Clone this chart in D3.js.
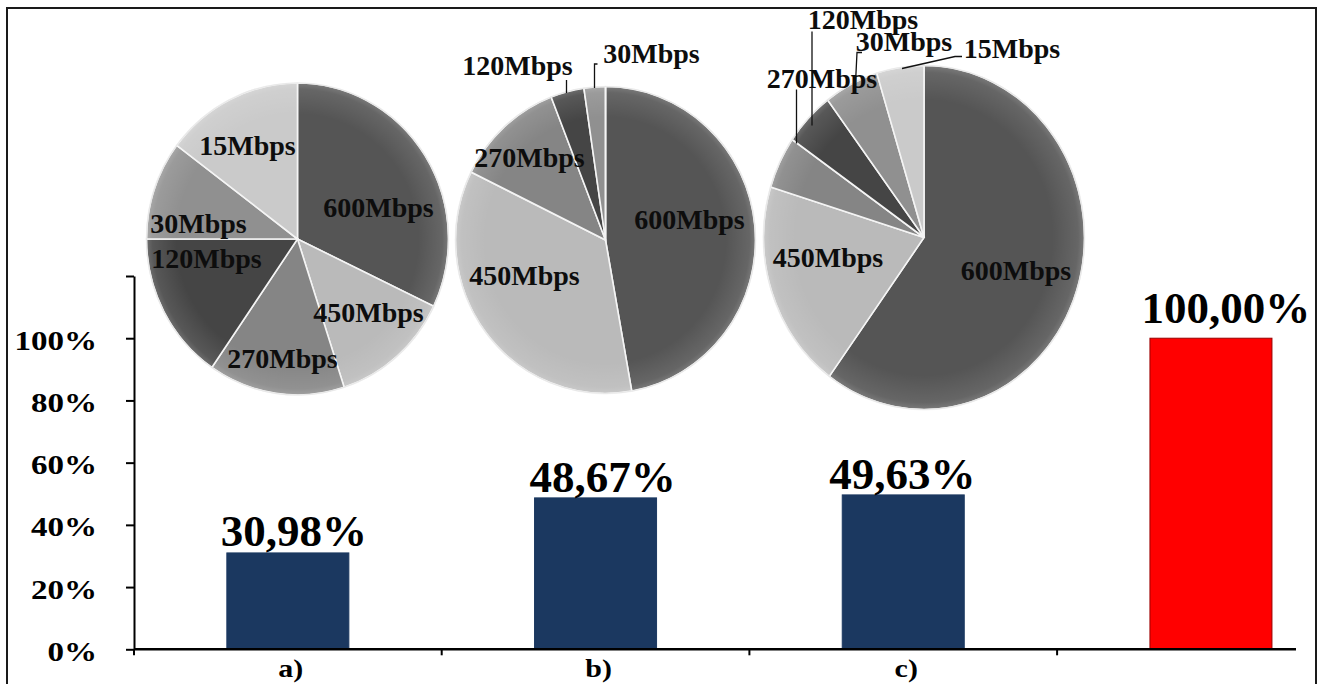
<!DOCTYPE html>
<html>
<head>
<meta charset="utf-8">
<script src="https://cdn.jsdelivr.net/npm/d3@7"></script>
<style>
  html, body { margin: 0; padding: 0; background: #ffffff; }
  svg { display: block; font-family: "Liberation Serif", "Times New Roman", serif; font-weight: bold; }
</style>
</head>
<body>
<svg id="chart" width="1320" height="684"></svg>
<script>
// ---- Bar data: relative throughput per scenario ----
const categories = ["a)", "b)", "c)", ""];
const shares = [0.3098, 0.4867, 0.4963, 1.0];
const shareLabels = ["30,98%", "48,67%", "49,63%", "100,00%"];
const yTicks = [0, 0.2, 0.4, 0.6, 0.8, 1.0, 1.2];
const yTickLabels = ["0%", "20%", "40%", "60%", "80%", "100%", ""];

// ---- Pie data: share (%) of each link rate in scenarios a), b), c) ----
const rates = ["600Mbps", "450Mbps", "270Mbps", "120Mbps", "30Mbps", "15Mbps"];
const pieA = [32.1, 12.9, 14.6, 15.4, 10.25, 14.75];
const pieB = [47.2, 35.1, 11.8, 3.6, 2.3, 0];
const pieC = [60.05, 19.7, 4.9, 5.1, 5.5, 4.75];

// ---- Styling ----
const barColors = ["#1b3860", "#1b3860", "#1b3860", "#ff0000"];
const barStrokes = ["#1b3860", "#1b3860", "#1b3860", "#9a0000"];
const rateColors = ["#555555", "#bababa", "#858585", "#454545", "#909090", "#cacaca"];

const svg = d3.select("#chart");

// outer frame
svg.append("rect")
  .attr("x", 7).attr("y", 8).attr("width", 1309).attr("height", 700)
  .attr("fill", "none").attr("stroke", "#1a1a1a").attr("stroke-width", 2);

// ---- Scales ----
const plotLeft = 134, plotBottom = 649.3, plotTop = 276, step = 307.7, axisEnd = 1296;
const x = d3.scaleBand()
  .domain(categories)
  .range([plotLeft, plotLeft + step * categories.length])
  .paddingInner(0.6035)
  .paddingOuter(0.30175);
const y = d3.scaleLinear().domain([0, 1.2]).range([plotBottom, plotTop]);

// ---- Bars ----
svg.append("g").selectAll("rect")
  .data(categories)
  .join("rect")
  .attr("x", d => x(d))
  .attr("y", (d, i) => y(shares[i]))
  .attr("width", x.bandwidth())
  .attr("height", (d, i) => y(0) - y(shares[i]))
  .attr("fill", (d, i) => barColors[i])
  .attr("stroke", (d, i) => barStrokes[i])
  .attr("stroke-width", 1);

// value labels above the bars
const valueShift = [[6, -7], [7, -6], [-1, -6], [15, -15]];
svg.append("g").selectAll("text")
  .data(categories)
  .join("text")
  .attr("x", (d, i) => x(d) + x.bandwidth() / 2 + valueShift[i][0])
  .attr("y", (d, i) => y(shares[i]) + valueShift[i][1])
  .attr("text-anchor", "middle")
  .attr("font-size", 45)
  .attr("fill", "#000")
  .text((d, i) => shareLabels[i]);

// ---- Y axis ----
const yAxis = svg.append("g")
  .attr("transform", `translate(${plotLeft},0)`)
  .call(d3.axisLeft(y).tickValues(yTicks).tickSize(8).tickSizeOuter(0).tickFormat(""));
yAxis.select(".domain").attr("stroke", "#000").attr("stroke-width", 2);
yAxis.selectAll(".tick line").attr("stroke", "#000").attr("stroke-width", 2);

svg.append("g").selectAll("text")
  .data(yTicks)
  .join("text")
  .attr("transform", d => `translate(97,${y(d) + 11.5}) scale(1.18,1)`)
  .attr("text-anchor", "end")
  .attr("font-size", 28)
  .attr("fill", "#000")
  .text((d, i) => yTickLabels[i]);

// ---- X axis ----
const xAxis = svg.append("g");
xAxis.append("line")
  .attr("x1", plotLeft).attr("x2", axisEnd)
  .attr("y1", y(0)).attr("y2", y(0))
  .attr("stroke", "#000").attr("stroke-width", 2.5);
// tick marks on the category boundaries
xAxis.selectAll("line.tick")
  .data(categories.filter(c => x(c) + x.bandwidth() / 2 - x.step() / 2 < axisEnd))
  .join("line")
  .attr("class", "tick")
  .attr("x1", d => x(d) + x.bandwidth() / 2 - x.step() / 2)
  .attr("x2", d => x(d) + x.bandwidth() / 2 - x.step() / 2)
  .attr("y1", y(0)).attr("y2", y(0) + 6)
  .attr("stroke", "#000").attr("stroke-width", 2);
xAxis.selectAll("text")
  .data(categories)
  .join("text")
  .attr("transform", d => `translate(${x(d) + x.bandwidth() / 2 + 3},677) scale(1.2,1)`)
  .attr("text-anchor", "middle")
  .attr("font-size", 25)
  .attr("fill", "#000")
  .text(d => d);

// ---- Pies ----
const defs = svg.append("defs");
const sheen = defs.append("radialGradient").attr("id", "pieSheen");
sheen.append("stop").attr("offset", "0%").attr("stop-color", "#fff").attr("stop-opacity", 0);
sheen.append("stop").attr("offset", "80%").attr("stop-color", "#fff").attr("stop-opacity", 0);
sheen.append("stop").attr("offset", "96%").attr("stop-color", "#fff").attr("stop-opacity", 0.10);
sheen.append("stop").attr("offset", "100%").attr("stop-color", "#fff").attr("stop-opacity", 0.22);

const pies = [
  {
    values: pieA, cx: 297.5, cy: 239, rx: 151, ry: 156,
    labels: { "600Mbps": [81, -22], "450Mbps": [71, 83], "270Mbps": [-15, 129],
              "120Mbps": [-91, 29], "30Mbps": [-99, -6], "15Mbps": [-50, -84] },
    leaders: {}
  },
  {
    values: pieB, cx: 605.5, cy: 240, rx: 150, ry: 153.5,
    labels: { "600Mbps": [84, -11], "450Mbps": [-81, 45], "270Mbps": [-76, -73],
              "120Mbps": [-88, -165], "30Mbps": [46, -177] },
    leaders: { "120Mbps": [[-39, -160], [-39, -147]],
               "30Mbps": [[-8, -176], [-11, -176], [-11, -152]] }
  },
  {
    values: pieC, cx: 924, cy: 237.5, rx: 160.5, ry: 172,
    labels: { "600Mbps": [92, 42], "450Mbps": [-96, 29], "270Mbps": [-102, -150],
              "120Mbps": [-61, -208.5], "30Mbps": [-20, -187], "15Mbps": [88, -180] },
    leaders: { "270Mbps": [[-127.5, -148], [-127.5, -94]],
               "120Mbps": [[-112, -206], [-112, -112]],
               "30Mbps": [[-62, -185], [-67, -185], [-69, -144]],
               "15Mbps": [[38, -181], [31, -181], [-22, -169]] }
  }
];

const pieGen = d3.pie().sort(null).value(d => d);

pies.forEach(p => {
  const g = svg.append("g").attr("transform", `translate(${p.cx},${p.cy})`);
  const shape = g.append("g").attr("transform", `scale(1,${p.ry / p.rx})`);
  const arc = d3.arc().innerRadius(0).outerRadius(p.rx);

  shape.selectAll("path")
    .data(pieGen(p.values))
    .join("path")
    .attr("d", arc)
    .attr("fill", (d, i) => rateColors[i])
    .attr("stroke", "#f4f4f4")
    .attr("stroke-width", 1.6)
    .attr("vector-effect", "non-scaling-stroke");

  shape.append("circle")
    .attr("r", p.rx)
    .attr("fill", "url(#pieSheen)")
    .attr("stroke", "#e8e8e8")
    .attr("stroke-width", 1.2)
    .attr("vector-effect", "non-scaling-stroke");

  const lineGen = d3.line();
  Object.entries(p.leaders).forEach(([k, pts]) => {
    g.append("path")
      .attr("d", lineGen(pts))
      .attr("fill", "none")
      .attr("stroke", "#111")
      .attr("stroke-width", 1.3);
  });

  Object.entries(p.labels).forEach(([k, pos]) => {
    g.append("text")
      .attr("x", pos[0]).attr("y", pos[1])
      .attr("text-anchor", "middle")
      .attr("font-size", 28)
      .attr("fill", "#0d0d0d")
      .text(k);
  });
});
</script>
</body>
</html>
